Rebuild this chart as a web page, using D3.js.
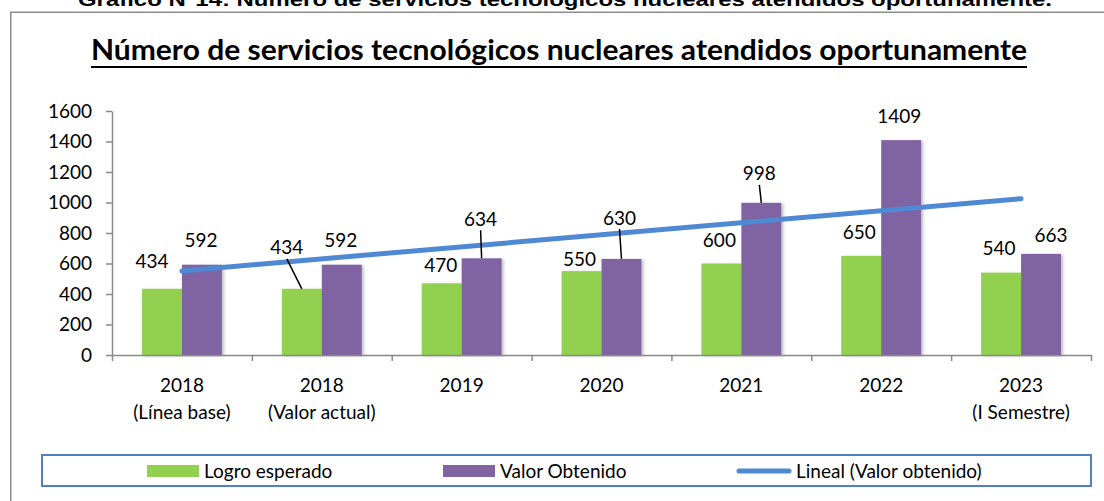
<!DOCTYPE html>
<html>
<head>
<meta charset="utf-8">
<script src="https://cdn.jsdelivr.net/npm/d3@7"></script>
<style>
  html, body { margin: 0; padding: 0; background: #fff; }
  svg { display: block; }
  .lbl { font-family: Lato, "Open Sans", sans-serif; font-size: 19px; fill: #000; }
  .axis path, .axis line { stroke: #898989; stroke-width: 1.5; }
  .axis text { font-family: Lato, "Open Sans", sans-serif; font-size: 19px; fill: #000; }
</style>
</head>
<body>
<div id="chart"></div>
<script>
const categories = [
  ["2018", "(Línea base)"],
  ["2018", "(Valor actual)"],
  ["2019"],
  ["2020"],
  ["2021"],
  ["2022"],
  ["2023", "(I Semestre)"],
];
const logroEsperado = [434, 434, 470, 550, 600, 650, 540];
const valorObtenido = [592, 592, 634, 630, 998, 1409, 663];
const yTicks = [0, 200, 400, 600, 800, 1000, 1200, 1400, 1600];
const seriesNames = ["Logro esperado", "Valor Obtenido", "Lineal (Valor obtenido)"];

// label placement relative to bar top: [dx, dy, leader line]
const logroLabelPos = [[-10, -27], [-15, -41, true], [-1, -18], [-2, -12], [-2, -23], [-2, -24], [-2, -24]];
const valorLabelPos = [[-1, -24], [-1, -24], [-1, -39, true], [-2, -41, true], [-2, -29, true], [-2, -24], [10, -19]];

const width = 1104;
const height = 501;
const green = "#92d050";
const purple = "#8064a2";
const trendBlue = "#4f88d3";

const svg = d3.select("#chart").append("svg").attr("width", width).attr("height", height);

const defs = svg.append("defs");
defs.append("filter").attr("id", "shadow").attr("x", "-20%").attr("y", "-5%").attr("width", "150%").attr("height", "115%")
  .append("feDropShadow").attr("dx", 2).attr("dy", 1).attr("stdDeviation", 1.5)
  .attr("flood-color", "#000").attr("flood-opacity", 0.25);

// caption above the frame (clipped by the page top, as in the source)
svg.append("text")
  .attr("x", 78).attr("y", 6)
  .attr("textLength", 974).attr("lengthAdjust", "spacingAndGlyphs")
  .style("font-family", "'Liberation Sans', Arial, sans-serif")
  .style("font-weight", "bold").style("font-size", "19px")
  .text("Gráfico N°14: Número de servicios tecnológicos nucleares atendidos oportunamente.");

// frame
svg.append("path")
  .attr("d", `M10.75,${height} V12.25 H${width}`)
  .attr("fill", "none").attr("stroke", "#8c8c8c").attr("stroke-width", 1.5);

// title
svg.append("text")
  .attr("x", 91).attr("y", 60)
  .attr("textLength", 936).attr("lengthAdjust", "spacingAndGlyphs")
  .style("font-family", "Lato, 'Open Sans', sans-serif")
  .style("font-weight", "bold").style("font-size", "28px")
  .text("Número de servicios tecnológicos nucleares atendidos oportunamente");
svg.append("line")
  .attr("x1", 91).attr("x2", 1027).attr("y1", 67).attr("y2", 67)
  .attr("stroke", "#000").attr("stroke-width", 2);

const x = d3.scaleBand().domain(d3.range(categories.length)).range([112, 1091]);
const xs = d3.scaleBand().domain(["logro", "valor"]).range([0, x.bandwidth()]).paddingOuter(0.75);
const y = d3.scaleLinear().domain([0, 1600]).range([355, 111]);

// y axis
svg.append("g").attr("class", "axis")
  .attr("transform", "translate(112,0)")
  .call(d3.axisLeft(y).tickValues(yTicks).tickFormat(d3.format("d")).tickSize(6).tickPadding(14).tickSizeOuter(0));

// bars
const rows = categories.map((c, i) => ({ i, logro: logroEsperado[i], valor: valorObtenido[i] }));
const groups = svg.append("g").selectAll("g").data(rows).join("g")
  .attr("transform", (d) => `translate(${x(d.i)},0)`);
groups.append("rect")
  .attr("x", xs("logro")).attr("width", xs.bandwidth())
  .attr("y", (d) => y(d.logro)).attr("height", (d) => y(0) - y(d.logro))
  .attr("fill", green).attr("filter", "url(#shadow)");
groups.append("rect")
  .attr("x", xs("valor")).attr("width", xs.bandwidth())
  .attr("y", (d) => y(d.valor)).attr("height", (d) => y(0) - y(d.valor))
  .attr("fill", purple).attr("filter", "url(#shadow)");

// x axis: boundary ticks and category labels
const xb = d3.scaleLinear().domain([0, categories.length]).range(x.range());
svg.append("g").attr("class", "axis")
  .attr("transform", `translate(0,${y(0)})`)
  .call(d3.axisBottom(xb).tickValues(d3.range(categories.length + 1)).tickFormat("").tickSize(6).tickSizeOuter(0));

const catText = svg.append("g").selectAll("text").data(categories).join("text")
  .attr("class", "lbl").attr("text-anchor", "middle")
  .attr("x", (d, i) => x(i) + x.bandwidth() / 2).attr("y", 392);
catText.selectAll("tspan").data((d) => d).join("tspan")
  .attr("x", function () { return this.parentNode.getAttribute("x"); })
  .attr("dy", (d, j) => (j === 0 ? 0 : 27))
  .text((d) => d);

// linear trend of Valor obtenido (least squares, as Excel)
const n = valorObtenido.length;
const xIdx = d3.range(1, n + 1);
const mx = d3.mean(xIdx);
const my = d3.mean(valorObtenido);
const slope = d3.sum(xIdx, (k, j) => (k - mx) * (valorObtenido[j] - my)) / d3.sum(xIdx, (k) => (k - mx) ** 2);
const trend = xIdx.map((k) => ({ i: k - 1, v: my + slope * (k - mx) }));
const trendLine = d3.line().x((d) => x(d.i) + x.bandwidth() / 2).y((d) => y(d.v));
svg.append("path")
  .datum([trend[0], trend[n - 1]])
  .attr("d", trendLine)
  .attr("fill", "none").attr("stroke", trendBlue).attr("stroke-width", 5).attr("stroke-linecap", "round");

// data labels
function drawLabels(values, key, pos) {
  const g = svg.append("g");
  values.forEach((v, i) => {
    const bx = x(i) + xs(key) + xs.bandwidth() / 2;
    const by = y(v);
    const [dx, dy, leader] = pos[i];
    const tx = bx + dx;
    const ty = by + dy;
    if (leader) {
      g.append("line")
        .attr("x1", tx).attr("y1", ty + 11)
        .attr("x2", bx).attr("y2", by)
        .attr("stroke", "#000").attr("stroke-width", 1.5);
    }
    g.append("text").attr("class", "lbl").attr("text-anchor", "middle")
      .attr("x", tx).attr("y", ty).attr("dy", "0.35em").text(v);
  });
}
drawLabels(logroEsperado, "logro", logroLabelPos);
drawLabels(valorObtenido, "valor", valorLabelPos);

// legend
const legend = svg.append("g");
legend.append("rect")
  .attr("x", 42).attr("y", 455).attr("width", 1049).attr("height", 31)
  .attr("fill", "#fff").attr("stroke", "#4f81bd").attr("stroke-width", 2);
const legendX = [147, 443, 737];
seriesNames.forEach((name, i) => {
  if (i < 2) {
    legend.append("rect").attr("x", legendX[i]).attr("y", 465).attr("width", 52).attr("height", 12)
      .attr("fill", i === 0 ? green : purple);
  } else {
    legend.append("line").attr("x1", legendX[i] + 2).attr("x2", legendX[i] + 52).attr("y1", 471).attr("y2", 471)
      .attr("stroke", trendBlue).attr("stroke-width", 5).attr("stroke-linecap", "round");
  }
  legend.append("text").attr("class", "lbl")
    .attr("x", legendX[i] + (i < 2 ? 57 : 59)).attr("y", 471).attr("dy", "0.35em").text(name);
});
</script>
</body>
</html>
